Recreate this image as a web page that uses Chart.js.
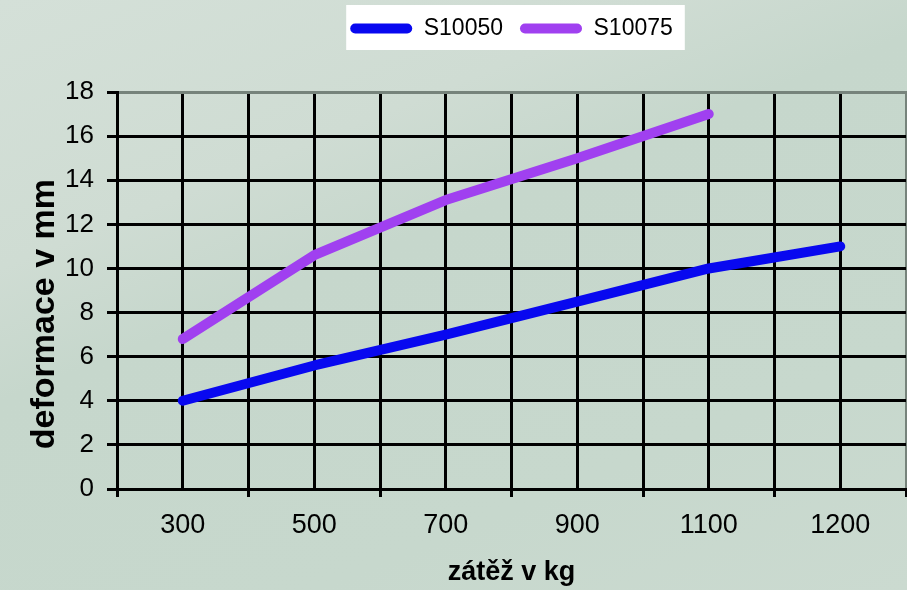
<!DOCTYPE html>
<html>
<head>
<meta charset="utf-8">
<script src="https://cdn.jsdelivr.net/npm/chart.js@4.4.1/dist/chart.umd.min.js"></script>
<style>
  html, body { margin: 0; padding: 0; }
  body {
    width: 907px;
    height: 590px;
    overflow: hidden;
    background: linear-gradient(158deg, #d4e0d8 0%, #cfdcd3 28%, #c6d7cc 42%, #c7d8cd 75%, #cbdad0 100%);
  }
  #wrap { position: relative; width: 907px; height: 590px; }
</style>
</head>
<body>
<div id="wrap"><canvas id="deformChart"></canvas></div>
<script>
// load categories (kg) and deformation (mm) per profile
const loads = ['300', '500', '700', '900', '1100', '1200'];
const s10050 = [4.0, 5.6, 7.0, 8.5, 10.0, 11.0];
const s10075 = [6.8, 10.6, 13.1, 15.0, 17.0, null];
const seriesNames = ['S10050', 'S10075'];
const seriesColors = ['#0808f0', '#a040f0'];

const gray = '#76837b';

Chart.defaults.font.family = "'Liberation Sans', Arial, sans-serif";
Chart.defaults.color = '#000';

// white box behind the legend
const legendBox = {
  id: 'legendBox',
  beforeDraw(chart) {
    const boxes = chart.legend && chart.legend.legendHitBoxes;
    if (!boxes || !boxes.length) return;
    const left = Math.min(...boxes.map(b => b.left)) - 4;
    const right = Math.max(...boxes.map(b => b.left + b.width)) + 12;
    const top = boxes[0].top - 12;
    const bottom = boxes[0].top + boxes[0].height + 10;
    const ctx = chart.ctx;
    ctx.save();
    ctx.fillStyle = '#ffffff';
    ctx.fillRect(left, top, right - left, bottom - top);
    ctx.restore();
  }
};

const makeLine = (i, data) => ({
  label: seriesNames[i],
  data: data,
  borderColor: seriesColors[i],
  backgroundColor: seriesColors[i],
  borderWidth: 10,
  borderCapStyle: 'round',
  borderJoinStyle: 'round',
  pointRadius: 0,
  pointHoverRadius: 0,
  tension: 0,
  fill: false
});

new Chart(document.getElementById('deformChart'), {
  type: 'line',
  data: {
    labels: loads,
    datasets: [makeLine(0, s10050), makeLine(1, s10075)]
  },
  options: {
    responsive: true,
    maintainAspectRatio: false,
    animation: false,
    layout: { padding: { left: 16, right: 1, top: 0, bottom: 0 } },
    plugins: {
      tooltip: { enabled: false },
      legend: {
        position: 'top',
        fullSize: false,
        labels: {
          boxWidth: 62,
          boxHeight: 10,
          padding: 17,
          useBorderRadius: true,
          borderRadius: 5,
          color: '#000',
          font: { size: 23 },
          generateLabels: chart =>
            Chart.defaults.plugins.legend.labels.generateLabels(chart)
              .map(it => Object.assign(it, { fillStyle: it.strokeStyle, lineWidth: 0 }))
        }
      }
    },
    scales: {
      x: {
        type: 'category',
        offset: true,
        grid: {
          offset: true,
          color: c => (c.tick ? '#000' : gray),
          lineWidth: c => (c.tick ? 3 : 2),
          tickLength: 8,
          tickColor: '#000'
        },
        border: { display: true, color: '#000', width: 3 },
        ticks: { padding: 12, font: { size: 27 }, color: '#000', maxRotation: 0, autoSkip: false },
        title: {
          display: true,
          text: 'zátěž v kg',
          color: '#000',
          font: { size: 27, weight: 'bold', lineHeight: 1 },
          padding: { top: 0, bottom: 4 }
        },
        afterFit: s => { s.height = 101; }
      },
      x2: {
        type: 'category',
        labels: loads,
        position: 'top',
        offset: true,
        grid: { offset: false, color: '#000', lineWidth: 3, drawTicks: false },
        border: { display: true, color: gray, width: 3 },
        ticks: { display: false },
        afterFit: s => { s.height = 42; }
      },
      y: {
        min: 0,
        max: 18,
        ticks: { stepSize: 2, padding: 13, color: '#000', font: { size: 26 } },
        grid: {
          color: c => (c.tick && c.tick.value === 18 ? 'rgba(0,0,0,0)' : '#000'),
          lineWidth: 3,
          tickLength: 10,
          tickColor: '#000'
        },
        border: { display: true, color: '#000', width: 3 },
        title: {
          display: true,
          // trailing spaces push the title down a little, as in the source
          text: 'deformace v mm     ',
          color: '#000',
          font: { size: 34, weight: 'bold', lineHeight: 1 },
          padding: { top: 12, bottom: 10 }
        },
        afterFit: s => { s.width = 101; }
      }
    }
  },
  plugins: [legendBox]
});
</script>
</body>
</html>
